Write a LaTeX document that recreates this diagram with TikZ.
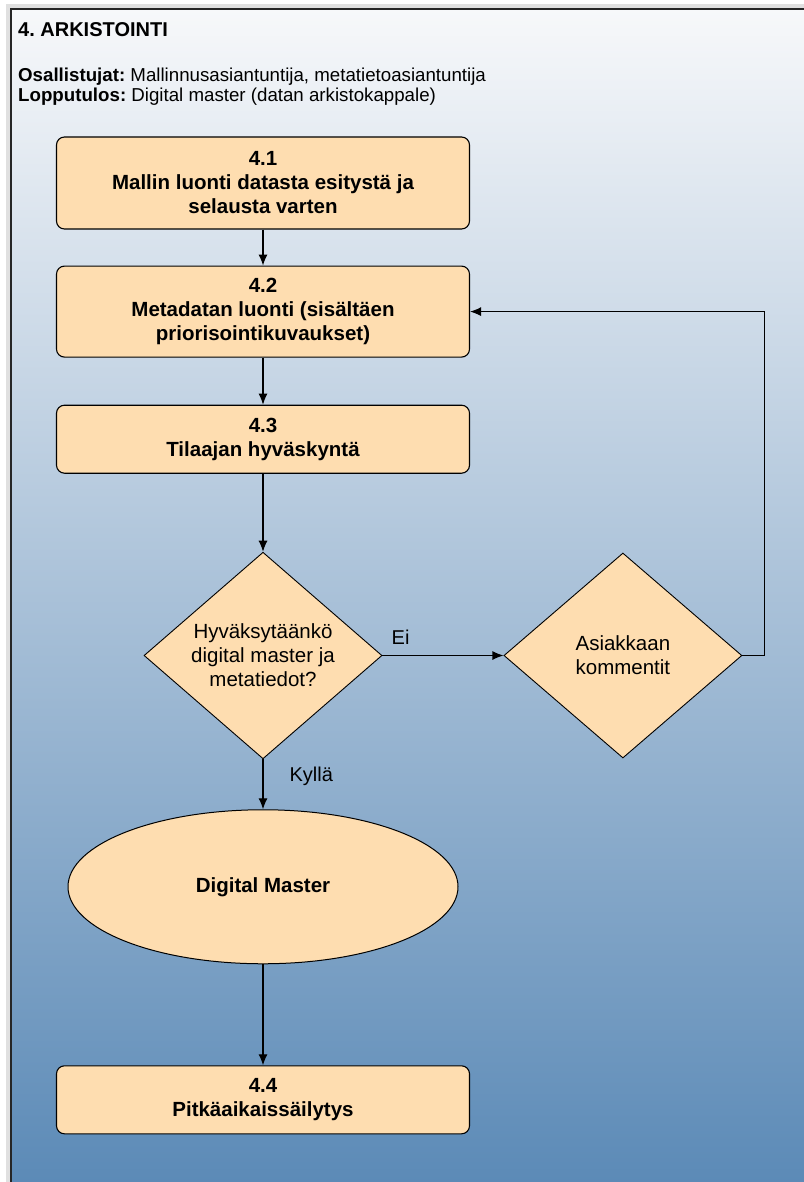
\documentclass[tikz,border=0pt]{standalone}
\usepackage{fontspec}
\setmainfont{Liberation Sans}
\usepackage{tikz}
\usetikzlibrary{arrows.meta,positioning,shapes.geometric}
\definecolor{boxfill}{RGB}{254,221,176}
\definecolor{bgtop}{RGB}{247,248,250}
\definecolor{bgmid}{RGB}{174,196,216}
\definecolor{bgbot}{RGB}{90,137,182}
\frenchspacing

\begin{document}
\begin{tikzpicture}[x=1pt,y=-1pt]
\tikzset{stepbox/.style={draw,rounded corners=8pt,fill=boxfill,line width=1.1pt,
  minimum width=413pt,align=center,inner sep=0pt,
  font=\fontsize{20.5}{24}\selectfont\bfseries}}
\tikzset{decision/.style={draw,diamond,fill=boxfill,line width=0.9pt,aspect=1,
  minimum width=238pt,minimum height=205pt,inner sep=0pt,align=center,
  font=\fontsize{20.5}{24}\selectfont}}
\tikzset{terminal/.style={draw,ellipse,fill=boxfill,line width=1pt,
  minimum width=390pt,minimum height=154pt,font=\fontsize{20.5}{24}\selectfont\bfseries}}
\tikzset{flow/.style={-{Latex[length=11pt,width=9pt]},line width=1.1pt}}
\tikzset{edgelabel/.style={font=\fontsize{20}{24}\selectfont,inner sep=0pt}}
% page and frame
\useasboundingbox (0,0) rectangle (803,1182);
\fill[white] (0,0) rectangle (803,1182);
\draw[black!12,line width=4pt] (8,1190) -- (8,6) -- (810,6);
\shade[top color=bgtop,middle color=bgmid,bottom color=bgbot] (11,9) rectangle (815,1195);
\draw[black!85,line width=1.3pt] (11,1195) -- (11,9) -- (815,9);
% header
\node[anchor=base west,inner sep=0pt,font=\fontsize{20}{22}\selectfont\bfseries] (title) at (18,37) {4. ARKISTOINTI};
\node[anchor=base west,inner sep=0pt,align=left,font=\fontsize{18.7}{20}\selectfont] (info) at (18,102)
  {\textbf{Osallistujat:} Mallinnusasiantuntija, metatietoasiantuntija\\
   \textbf{Lopputulos:} Digital master (datan arkistokappale)};
% steps
\node[stepbox,minimum height=92pt] (b41) at (263,183) {4.1\\Mallin luonti datasta esitystä ja\\selausta varten};
\node[stepbox,minimum height=91pt,below=36pt of b41] (b42) {4.2\\Metadatan luonti (sisältäen\\priorisointikuvaukset)};
\node[stepbox,minimum height=68pt,below=47pt of b42] (b43) {4.3\\Tilaajan hyväskyntä};
\node[decision,below=78pt of b43] (hyv) {Hyväksytäänkö\\digital master ja\\metatiedot?};
\node[decision,right=121pt of hyv] (kom) {Asiakkaan\\kommentit};
\node[terminal,below=50pt of hyv] (dm) {Digital Master};
\node[stepbox,minimum height=68pt,below=101pt of dm] (b44) {4.4\\Pitkäaikaissäilytys};
% connectors
\draw[flow] (b41) -- (b42);
\draw[flow] (b42) -- (b43);
\draw[flow] (b43) -- (hyv);
\draw[flow] (hyv) -- node[edgelabel,pos=0.15,above=10pt] (ei) {Ei} (kom);
\draw[flow] (kom.east) -- ++(22,0) |- (b42.east);
\draw[flow] (hyv) -- node[edgelabel,pos=0.35,right=26pt] (kylla) {Kyllä} (dm);
\draw[flow] (dm) -- (b44);
\end{tikzpicture}
\end{document}
